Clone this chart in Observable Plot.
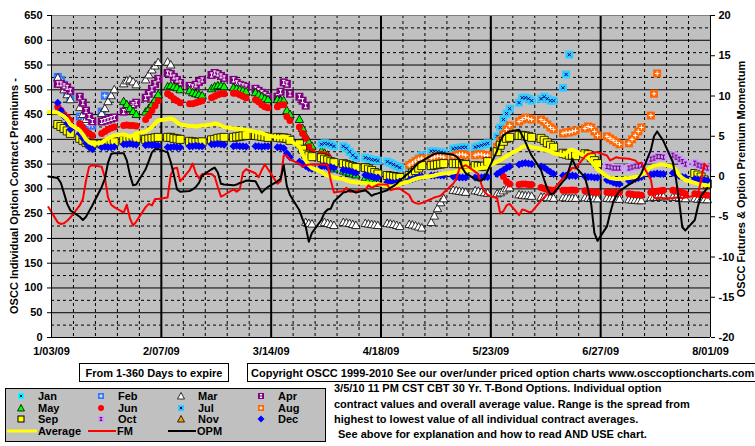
<!DOCTYPE html>
<html><head><meta charset="utf-8">
<script src="https://cdn.jsdelivr.net/npm/d3@7"></script>
<script src="https://cdn.jsdelivr.net/npm/@observablehq/plot@0.6"></script>
<style>
body{margin:0;background:#fff;}
#wrap{position:relative;width:755px;height:446px;overflow:hidden;font-family:'Liberation Sans',Arial,sans-serif;font-weight:bold;}
#chart{position:absolute;left:0;top:0;}
#over{position:absolute;left:0;top:0;}
</style></head><body>
<div id="wrap"><div id="chart"></div><svg id="over" width="755" height="446"></svg></div>
<script>
const _ = null;
// x tick labels (major) and minor weekly gridlines
const majorTicks = ["2009-01-03","2009-02-07","2009-03-14","2009-04-18","2009-05-23","2009-06-27","2009-08-01"];
const minorTicks = ["2009-01-10","2009-01-17","2009-01-24","2009-01-31","2009-02-14","2009-02-21","2009-02-28","2009-03-07",
  "2009-03-21","2009-03-28","2009-04-04","2009-04-11","2009-04-25","2009-05-02","2009-05-09","2009-05-16",
  "2009-05-30","2009-06-06","2009-06-13","2009-06-20","2009-07-04","2009-07-11","2009-07-18","2009-07-25"];
const leftTicks = [0,50,100,150,200,250,300,350,400,450,500,550,600,650];
const halfTicks = [25,75,125,175,225,275,325,375,425,475,525,575,625];
const rightTicks = [-20,-15,-10,-5,0,5,10,15,20];

// Daily series (trading days). Start dates given per series.
const avgStart = "2009-01-02";
const average = [455,
 454,450,446,440,430, 418,410,400,394,391, 393,398,402,405,408, 410,408,406,408,412, 416,420,425,432,438,
 441,442,440,434,430, 427,427,426,427,428, 430,432,431,428,425, 422,421,421,420,419, 415,414,413,410,408,
 404,404,406,404,398, 385,370,358,348,342, 335,330,327,325,323, 320,317,315,314,313, 312,311,310,310,310,
 306,305,306,308,310, 315,318,320,322,323, 326,327,329,330,331, 333,335,336,337,337, 339,341,342,343,345,
 355,358,362,366,370, 380,385,386,386,384, 381,379,378,376,372, 368,372,378,379,376, 366,362,356,348,340,
 325,322,321,320,320, 322,323,324,325,328, 344,347,348,349,349, 345,338,328,322,318, 312,310,309,308,307];
const fm = [-3.8,
 -5.7,-5.9,-5.8,-5.5,-5.1, -3.6,-2.8,-0.5,1.2,1.4, 1.2,-0.1,-2.6,-3.5,-3.8, -4.5,-3.5,-5.2,-6.1,-5.6, -3.8,-3.4,-3.6,-2.8,-2.8,
 -2.6,0.2,1.0,1.1,-0.6, 0.8,1.6,0.4,-0.2,0.3, 0.3,0.0,-1.3,-2.5,-2.3, -1.6,-1.9,-1.6,0.5,0.9, 0.4,-0.1,0.8,1.5,0.9,
 -0.9,-0.6,2.6,2.6,2.1, 1.6,1.2,1.4,1.5,1.5, 1.5,1.5,1.4,-0.5,-2.0, -1.8,-1.4,-1.9,-1.9,-1.8, -1.7,-1.1,-1.4,-1.2,-1.0,
 -1.0,-1.7,-1.6,-1.5,-1.5, -2.3,-3.1,-3.3,-3.4,-3.3, -2.8,-2.6,-2.5,-2.4,-2.0, -0.9,-0.3,1.0,1.2,1.4, 0.6,0.3,-1.0,-1.9,-2.3,
 -2.7,-4.6,-4.3,-3.6,-3.4, -4.8,-4.1,-4.2,-4.4,-4.4, -3.0,-2.6,-2.2,-2.0,-1.6, -0.2,0.2,0.6,1.1,1.0, 2.5,2.8,2.9,3.0,3.0,
 2.6,2.0,2.2,2.4,2.3, 2.2,2.1,2.0,1.6,1.7, -0.4,-2.6,-2.7,-2.6,-2.7, -2.7,-2.6,-2.6,-2.7,-2.6, -2.4,-2.2,-0.5,1.6,1.2];
const opm = [0.0,
 -0.2,-0.8,-2.1,-3.4,-4.2, -5.0,-5.4,-5.0,-4.3,-3.6, -1.3,-0.3,1.7,2.8,2.9, 2.9,2.0,0.2,-1.1,-1.0, 0.9,1.9,3.0,3.4,3.4,
 3.0,1.8,0.2,-1.6,-1.9, -1.8,-1.6,-1.3,-0.8,0.1, 0.9,1.1,0.5,-0.9,-1.0, -1.1,-1.0,-0.8,-0.7,-0.5, -0.6,-1.3,-2.0,-1.6,-1.3,
 -0.6,-0.3,1.4,-1.2,-2.3, -4.2,-5.3,-6.2,-8.1,-7.0, -5.4,-4.5,-4.1,-4.0,-3.1, -2.0,-1.9,-1.7,-1.8,-2.0, -1.7,-2.0,-2.4,-2.2,-2.1,
 -1.7,-1.4,-1.2,-0.9,-0.5, 0.5,0.9,1.3,1.7,1.9, 2.6,2.8,2.9,2.9,2.9, 2.7,2.5,2.1,1.0,0.4, -0.3,-0.5,-0.5,-0.2,0.7,
 3.2,4.4,5.1,5.4,5.6, 5.8,5.1,4.3,3.4,2.6, 0.8,-0.4,-1.5,-2.2,-2.1, -0.6,-0.2,1.0,2.2,1.2, -0.1,-1.6,-3.5,-7.0,-8.0,
 -6.2,-4.6,-3.2,-2.4,-1.8, -1.0,-0.8,-0.5,-0.2,0.4, 3.3,5.0,5.6,5.0,4.4, 1.8,-0.3,-3.0,-6.3,-6.7, -5.4,-3.7,-2.4,-1.9,-1.4];

const febStart = "2009-01-05";
const feb = [526,520,510,495,482, 446,438,432,428,428, 456,488];
const marStart = "2009-01-05";
const mar = [524,512,500,490,480, 464,450,440,_,_, 452,462,476,488,500, 512,518,520,516,510, 520,530,540,548,555,
 556,550,_,_,_, _,_,_,_,_, _,_,_,_,_, _,_,_,_,_, _,_,_,_,_, _,_,_,_,_,
 _,_,232,230,229, 230,232,230,228,226, 232,231,230,228,226, 230,229,228,227,226, 230,229,228,226,224,
 228,227,225,223,221, 232,245,260,272,280, 297,296,295,294,293, 296,295,293,292,291, 290,292,296,300,302,
 288,287,286,286,285, 283,283,282,282,281, 282,282,281,281,281, 282,281,281,280,280, 281,280,280,279,279,
 278,277,277,276,276, 282,283,283,284,284, 283,283,282,281,280, 280,279,279,278,278];
const aprStart = "2009-01-05";
const apr = [512,512,508,505,498, 486,474,458,446,436, 436,438,440,442,444, 456,462,466,470,474, 484,492,502,512,522,
 534,532,526,520,514, 508,506,510,516,520, 530,534,532,528,524, 520,514,510,508,506, 502,498,494,490,486,
 486,496,515,512,492, 486,478,468];
const mayStart = "2009-01-26";
const may = [476,470,462,456,450, 455,462,470,480,490, 506,508,506,504,500, 498,494,492,490,488, 502,506,508,508,506,
 504,502,500,498,496, 494,490,486,482,480, 480,478,478,458,450, 440,422,406,394,386, 376,372,368,345,340,
 336,334,332,330,328, 322,318,315,313,311];
const junStart = "2009-01-05";
const jun = [466,458,450,444,438, 432,424,416,412,408, 412,416,420,423,425, 428,429,428,428,427, 440,448,458,468,478,
 492,488,482,478,474, 472,472,474,476,478, 484,487,490,492,492, 493,493,490,487,484, 480,476,470,466,464,
 466,470,470,446,438, 425,412,402,385,375, 370,368,366,_,_, _,_,_,_,_, _,_,_,_,_, _,_,_,_,_, _,_,_,_,_,
 _,_,_,_,_, _,_,_,_,_, _,_,_,_,_, _,_,325,315,310, 309,310,310,309,309, 303,301,299,298,297, 297,297,297,298,297,
 296,295,294,293,293, 293,293,292,293,293, 290,289,288,288,287, 293,294,295,296,297, 297,296,295,292,290, 290,289,288,288,287];
const julStart = "2009-03-30";
const jul = [390,392,391,389,386, 386,382,375,368,363, 363,361,359,358,357, 355,352,349,346,343, 344,350,356,362,368,
 376,376,375,374,373, 381,382,383,384,384, 384,386,388,390,392, 406,424,440,452,462, 474,484,484,482,478,
 482,486,482,478,478, 504,531,571];
const augStart = "2009-04-27";
const aug = [348,352,356,360,362, 362,364,366,366,364, 366,368,370,370,368, 368,370,370,368,368, 385,398,410,420,428,
 436,440,444,442,440, 440,436,430,424,420, 412,414,414,416,418, 422,426,424,416,408, 406,402,398,394,390,
 392,400,408,416,424, 448,492,533];
const sepStart = "2009-01-05";
const sep = [430,426,422,417,412, 402,398,394,391,391, 391,392,393,394,395, 398,399,400,401,402, 400,401,402,403,404,
 404,404,402,401,400, 396,395,394,394,395, 399,400,402,403,404, 404,405,406,407,408, 408,407,406,405,404,
 404,403,403,402,398, 391,380,370,367,365, 363,360,358,355,353, 351,349,347,345,343, 343,340,337,333,330,
 327,326,325,324,323, 327,332,337,342,347, 347,348,349,350,351, 351,351,351,350,349, 347,346,345,346,355,
 375,388,396,402,404, 408,408,407,406,404, 402,398,393,388,384, 372,370,368,368,367, 371,369,363,357,351,
 _,_,_,_,_, _,_,_,_,_, _,_,_,_,_, _,_,_,_,_, 331,328,324,318,310];
const octStart = "2009-06-29";
const oct = [345,344,342,342,342, 342,344,346,346,348, 360,362,365,365,364, 368,364,360,355,350, 352,348,346,344,342];
const decStart = "2009-01-05";
const dec = [474,458,446,432,420, 412,402,392,384,380, 384,385,384,384,385, 390,390,391,390,389, 388,389,388,388,387,
 384,384,385,384,384, 386,386,387,386,386, 390,390,391,390,389, 386,387,386,386,385, 386,386,385,386,386,
 384,384,382,372,364, 355,350,346,342,340, 345,346,344,344,342, 338,337,336,334,332, 328,326,325,323,323,
 314,313,312,313,315, 318,320,322,324,325, 327,327,328,327,327, 325,324,323,323,323, 323,323,323,324,324,
 330,334,338,342,345, 349,351,352,351,350, 345,343,338,334,330, 327,327,326,327,326, 325,324,324,323,323,
 318,316,313,311,310, 316,318,320,322,324, 329,330,331,330,330, 332,330,326,324,323, 320,319,318,318,317];

const D = s => new Date(s + "T00:00:00Z");
const dates = d3.utcDays(D("2009-01-02"), D("2009-08-01")).filter(d => d.getUTCDay() % 6 !== 0);
const idxOf = s => dates.findIndex(d => +d === +D(s));
function pts(start, vals) {
  const k = idxOf(start);
  return vals.map((v, i) => ({date: dates[k + i], v})).filter(d => d.v != null);
}
// right axis (-20..20) placed on left scale (0..650)
const toLeft = r => 325 + r * 16.25;

const sq = {draw(c){c.rect(-4,-4,8,8);}};
const tri = {draw(c){c.moveTo(0,-4.5);c.lineTo(4.2,3);c.lineTo(-4.2,3);c.closePath();}};
const dia = {draw(c){c.moveTo(0,-4);c.lineTo(4,0);c.lineTo(0,4);c.lineTo(-4,0);c.closePath();}};
const xs = {draw(c){c.moveTo(-1.6,-1.6);c.lineTo(1.6,1.6);c.moveTo(1.6,-1.6);c.lineTo(-1.6,1.6);}};
const pl = {draw(c){c.moveTo(-2.2,0);c.lineTo(2.2,0);c.moveTo(0,-2.2);c.lineTo(0,2.2);}};
const ib = {draw(c){c.moveTo(-1.6,-2);c.lineTo(1.6,-2);c.moveTo(0,-2);c.lineTo(0,2);c.moveTo(-1.6,2);c.lineTo(1.6,2);}};

function marker(data, shape, fill, stroke, inner, innerStroke) {
  const m = [Plot.dot(data, {x: "date", y: "v", symbol: shape, fill, stroke: stroke || "none", strokeWidth: 0.8})];
  if (inner) m.push(Plot.dot(data, {x: "date", y: "v", symbol: inner, fill: "none", stroke: innerStroke, strokeWidth: 1}));
  return m;
}

const lineData = dates.map((d, i) => ({date: d, avg: average[i], fm: fm[i], opm: opm[i]}));

const chart = Plot.plot({
  width: 755, height: 362,
  marginLeft: 51, marginRight: 45, marginTop: 15, marginBottom: 25,
  x: {type: "utc", domain: [D("2009-01-03"), D("2009-08-01")]},
  y: {domain: [0, 650]},
  style: {fontFamily: "'Liberation Sans', Arial, sans-serif", fontSize: "11px", fontWeight: "bold", overflow: "visible", background: "transparent"},
  marks: [
    Plot.frame({fill: "#C0C0C0", stroke: "none"}),
    Plot.ruleY(halfTicks, {stroke: "#000", strokeDasharray: "3,3"}),
    Plot.ruleY(leftTicks.filter(t => t > 0 && t < 650), {stroke: "#000"}),
    Plot.ruleX(minorTicks.map(D), {stroke: "#000", strokeDasharray: "3,3"}),
    Plot.ruleX(majorTicks.slice(1, -1).map(D), {stroke: "#000", strokeWidth: 2}),
    Plot.ruleY([650], {stroke: "#808080"}),
    ...marker(pts(febStart, feb), sq, "#3377FF", null, pl, "#fff"),
    ...marker(pts(marStart, mar), tri, "#fff", "#000"),
    ...marker(pts(aprStart, apr), sq, "#800080", null, ib, "#fff"),
    ...marker(pts(mayStart, may), tri, "#00FF00", "#000"),
    Plot.dot(pts(junStart, jun), {x: "date", y: "v", r: 3.5, fill: "#FF0000"}),
    ...marker(pts(julStart, jul), sq, "#33CCFF", null, xs, "#000080"),
    ...marker(pts(augStart, aug), sq, "#FF6600", null, pl, "#fff"),
    ...marker(pts(sepStart, sep), sq, "#FFFF00", "#000"),
    ...marker(pts(octStart, oct), sq, "#CC99FF", null, ib, "#660066"),
    ...marker(pts(decStart, dec), dia, "#0000FF"),
    Plot.line(lineData, {x: "date", y: "avg", stroke: "#FFFF00", strokeWidth: 4}),
    Plot.line(lineData, {x: "date", y: d => toLeft(d.fm), stroke: "#FF0000", strokeWidth: 2}),
    Plot.line(lineData, {x: "date", y: d => toLeft(d.opm), stroke: "#000", strokeWidth: 2}),
    Plot.ruleX([D("2009-01-03")], {stroke: "#000"}),
    Plot.ruleX([D("2009-08-01")], {stroke: "#000"}),
    Plot.ruleY([0], {stroke: "#000"}),
    Plot.axisY(leftTicks, {anchor: "left", tickSize: 4, tickPadding: 5, label: null}),
    Plot.axisY(rightTicks.map(toLeft), {anchor: "right", tickSize: 4, tickPadding: 4, label: null,
      tickFormat: v => String(Math.round((v - 325) / 16.25))}),
    Plot.axisX(majorTicks.map(D), {anchor: "bottom", tickSize: 0, tickPadding: 10, label: null,
      tickFormat: d3.utcFormat("%-m/%d/%y")})
  ]
});
document.getElementById("chart").appendChild(chart);

// Titles, boxes, legend and notes
const svg = d3.select("#over").attr("font-family", "'Liberation Sans', Arial, sans-serif").attr("font-weight", "bold");
svg.append("text").attr("transform", "translate(18,196) rotate(-90)").attr("text-anchor", "middle")
  .attr("font-size", 11).text("OSCC Individual Option Contract Premiums -");
svg.append("text").attr("transform", "translate(745,179) rotate(-90)").attr("text-anchor", "middle")
  .attr("font-size", 11).text("OSCC Futures & Option Premium Momentum");

svg.append("rect").attr("x", 79.5).attr("y", 363.5).attr("width", 149).attr("height", 18).attr("fill", "#fff").attr("stroke", "#000");
svg.append("text").attr("x", 154).attr("y", 376.5).attr("text-anchor", "middle").attr("font-size", 11).text("From 1-360 Days to expire");
svg.append("rect").attr("x", 247.5).attr("y", 363.5).attr("width", 620).attr("height", 18).attr("fill", "#fff").attr("stroke", "#000");
svg.append("text").attr("x", 251).attr("y", 376.5).attr("font-size", 11)
  .text("Copyright OSCC 1999-2010 See our over/under priced option charts www.osccoptioncharts.com");

svg.append("rect").attr("x", 5.5).attr("y", 388.5).attr("width", 320).attr("height", 53).attr("fill", "#C0C0C0").attr("stroke", "#000");
const legendRows = [
  [["Jan","sq","#00FFFF","x","#000080"],["Feb","sq","#3377FF","+","#fff"],["Mar","tri","#fff"],["Apr","sq","#800080","i","#fff"]],
  [["May","tri","#00FF00"],["Jun","circ","#FF0000"],["Jul","sq","#33CCFF","x","#000080"],["Aug","sq","#FF6600","+","#fff"]],
  [["Sep","sqb","#FFFF00"],["Oct","sq","#CC99FF","i","#660066"],["Nov","tri","#FF9900"],["Dec","dia","#0000FF"]]
];
const colX = [21, 101, 181, 261], rowY = [396, 408, 419];
legendRows.forEach((row, r) => row.forEach(([name, shape, fill, inner, ic], c) => {
  const cx = colX[c], cy = rowY[r];
  const g = svg.append("g").attr("transform", `translate(${cx},${cy})`);
  if (shape === "sq" || shape === "sqb") g.append("rect").attr("x", -3).attr("y", -3).attr("width", 6).attr("height", 6).attr("fill", fill).attr("stroke", shape === "sqb" ? "#000" : "none");
  if (shape === "tri") g.append("path").attr("d", "M0,-3.5L3.5,3L-3.5,3Z").attr("fill", fill).attr("stroke", "#000").attr("stroke-width", 0.8);
  if (shape === "dia") g.append("path").attr("d", "M0,-3.5L3.5,0L0,3.5L-3.5,0Z").attr("fill", fill);
  if (shape === "circ") g.append("circle").attr("r", 3).attr("fill", fill);
  if (inner === "x") g.append("path").attr("d", "M-1.2,-1.2L1.2,1.2M1.2,-1.2L-1.2,1.2").attr("stroke", ic);
  if (inner === "+") g.append("path").attr("d", "M-1.6,0L1.6,0M0,-1.6L0,1.6").attr("stroke", ic);
  if (inner === "i") g.append("path").attr("d", "M-1.2,-1.5L1.2,-1.5M0,-1.5L0,1.5M-1.2,1.5L1.2,1.5").attr("stroke", ic);
  svg.append("text").attr("x", colX[c] + 17).attr("y", cy + 4).attr("font-size", 11).text(name);
}));
[["Average", 7, 37, "#FFFF00", 3], ["FM", 88, 116, "#FF0000", 2], ["OPM", 168, 196, "#000", 2]].forEach(([name, a, b, col, w]) => {
  svg.append("line").attr("x1", a).attr("x2", b).attr("y1", 431).attr("y2", 431).attr("stroke", col).attr("stroke-width", w);
  svg.append("text").attr("x", b + 1).attr("y", 435).attr("font-size", 11).text(name);
});
const notes = ["3/5/10 11 PM CST CBT 30 Yr. T-Bond Options. Individual option",
  "contract values and overall average value. Range is the spread from",
  "highest to lowest value of all individual contract averages.",
  " See above for explanation and how to read AND USE chart."];
[392, 408, 423, 438].forEach((y, i) => svg.append("text").attr("x", i === 3 ? 338 : 334).attr("y", y).attr("font-size", 11).text(notes[i].trim()));
</script></body></html>
